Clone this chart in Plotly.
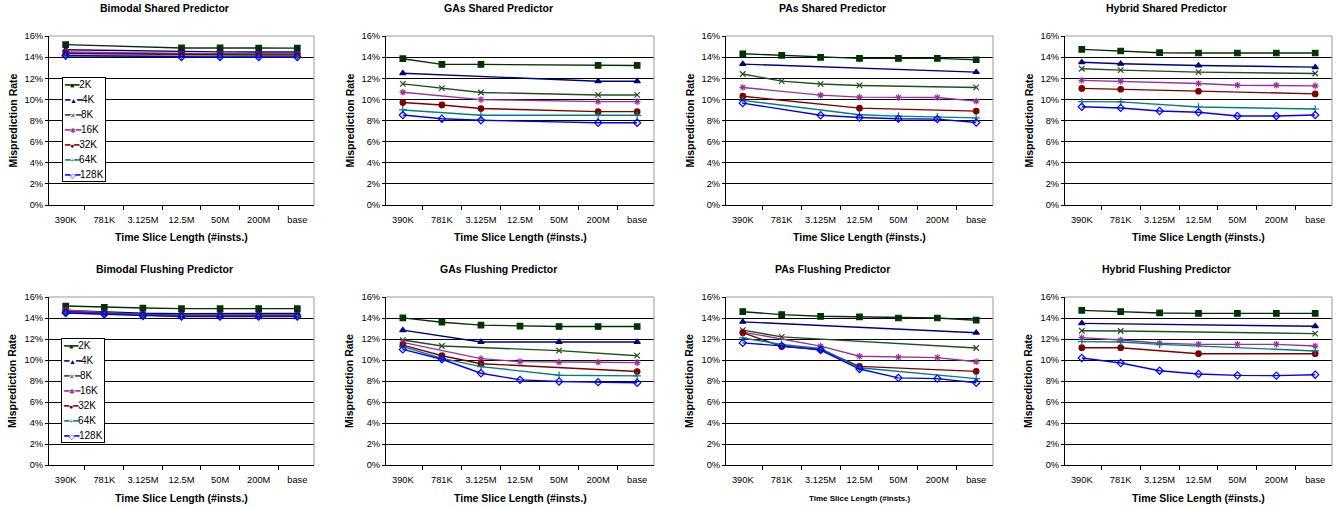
import plotly.graph_objects as go

W, H = 1336, 508

categories = ["390K", "781K", "3.125M", "12.5M", "50M", "200M", "base"]
series_names = ["2K", "4K", "8K", "16K", "32K", "64K", "128K"]
panel_titles = ["Bimodal Shared Predictor", "GAs Shared Predictor", "PAs Shared Predictor",
                "Hybrid Shared Predictor", "Bimodal Flushing Predictor", "GAs Flushing Predictor",
                "PAs Flushing Predictor", "Hybrid Flushing Predictor"]
y_tick_values = [0, 2, 4, 6, 8, 10, 12, 14, 16]
y_tick_labels = ["0%", "2%", "4%", "6%", "8%", "10%", "12%", "14%", "16%"]

# Misprediction rate (%) per series (2K..128K), None = no point plotted
bimodal_shared = [
    [15.18, None, None, 14.87, 14.87, 14.85, 14.85],
    [14.70, None, None, 14.50, 14.50, 14.48, 14.48],
    [14.40, None, None, 14.30, 14.30, 14.30, 14.30],
    [14.50, None, None, 14.30, 14.30, 14.28, 14.28],
    [14.35, None, None, 14.22, 14.22, 14.20, 14.20],
    [14.10, None, None, 14.08, 14.08, 14.08, 14.08],
    [14.15, None, None, 14.00, 14.00, 14.00, 14.00],
]
gas_shared = [
    [13.85, 13.31, 13.31, None, None, 13.21, 13.21],
    [12.48, None, None, None, None, 11.72, 11.72],
    [11.47, 11.06, 10.65, None, None, 10.42, 10.42],
    [10.68, None, 9.98, None, None, 9.79, 9.79],
    [9.70, 9.47, 9.13, None, None, 8.84, 8.84],
    [9.00, None, 8.49, None, None, 8.49, 8.49],
    [8.52, 8.17, 8.02, None, None, 7.79, 7.79],
]
pas_shared = [
    [14.32, 14.17, 13.98, 13.88, 13.88, 13.88, 13.75],
    [13.34, None, None, None, None, None, 12.58],
    [12.40, 11.73, 11.45, 11.32, None, None, 11.13],
    [11.13, None, 10.40, 10.21, 10.18, 10.18, 9.83],
    [10.30, None, None, 9.17, None, None, 8.89],
    [9.90, None, None, 8.54, 8.41, 8.32, 8.25],
    [9.64, None, 8.50, 8.28, 8.16, 8.13, 7.81],
]
hybrid_shared = [
    [14.73, 14.58, 14.42, 14.39, 14.39, 14.39, 14.39],
    [13.52, 13.37, None, 13.21, None, None, 13.05],
    [12.90, 12.77, None, 12.58, None, None, 12.45],
    [11.80, 11.72, None, 11.50, 11.34, 11.34, 11.28],
    [11.04, 10.96, None, 10.77, None, None, 10.52],
    [9.79, 9.76, None, 9.28, None, None, 9.09],
    [9.30, 9.19, 8.90, 8.78, 8.43, 8.43, 8.52],
]
bimodal_flushing = [
    [15.14, 15.02, 14.95, 14.89, 14.89, 14.89, 14.89],
    [14.73, 14.60, 14.45, 14.42, 14.42, 14.42, 14.44],
    [14.63, 14.54, 14.35, 14.30, 14.30, 14.30, 14.30],
    [14.76, 14.50, 14.32, 14.29, 14.29, 14.29, 14.29],
    [14.60, 14.44, 14.29, 14.22, 14.22, 14.22, 14.22],
    [14.50, 14.38, 14.22, 14.16, 14.16, 14.16, 14.16],
    [14.48, 14.35, 14.19, 14.13, 14.13, 14.13, 14.13],
]
gas_flushing = [
    [14.01, 13.60, 13.32, 13.22, 13.19, 13.19, 13.19],
    [12.84, None, 11.71, None, 11.71, None, 11.71],
    [11.90, 11.33, None, None, 10.89, None, 10.41],
    [11.68, None, 10.13, 9.85, 9.78, 9.78, 9.75],
    [11.42, 10.41, 9.65, None, None, None, 8.90],
    [11.27, 10.16, 9.37, None, 8.55, None, 8.49],
    [11.01, 10.07, 8.74, 8.11, 7.95, 7.89, 7.83],
]
pas_flushing = [
    [14.60, 14.32, 14.16, 14.10, 14.00, 14.00, 13.79],
    [13.63, None, None, None, None, None, 12.60],
    [12.85, 12.20, None, None, None, None, 11.14],
    [12.66, None, 11.32, 10.36, 10.26, 10.23, 9.83],
    [12.60, 11.29, 11.01, 9.39, None, None, 8.92],
    [12.10, 11.48, 11.10, 9.26, None, None, 8.23],
    [11.63, 11.35, 10.95, 9.14, 8.30, 8.23, 7.83],
]
hybrid_flushing = [
    [14.73, 14.60, 14.48, 14.44, 14.44, 14.44, 14.44],
    [13.49, None, None, None, None, None, 13.21],
    [12.79, 12.76, None, None, None, None, 12.51],
    [12.13, 11.90, 11.59, 11.49, 11.49, 11.49, 11.33],
    [11.17, 11.17, None, 10.60, None, None, 10.60],
    [11.75, 11.71, 11.49, None, None, None, 10.86],
    [10.19, 9.71, 8.98, 8.67, 8.54, 8.51, 8.60],
]

panels = [bimodal_shared, gas_shared, pas_shared, hybrid_shared,
          bimodal_flushing, gas_flushing, pas_flushing, hybrid_flushing]

colors = ["#003300", "#000080", "#1f4f1f", "#993399", "#800000", "#008080", "#0000ff"]
symbols = ["square", "triangle-up", "x-thin-open", "asterisk-open", "circle",
           "cross-thin-open", "diamond-open"]
legend_glyphs = ["■", "▲", "✕", "✱", "●", "+", "◇"]

FONT = "Liberation Sans, Arial, sans-serif"

# plot-area pixel boxes (left, right, top, bottom)
col_px = [(49, 314), (386, 654), (726, 993), (1065, 1332)]
row_px = [(36, 205), (297, 465)]

fig = go.Figure()
annotations = []
shapes = []
layout_axes = {}

for i, data in enumerate(panels):
    r, c = divmod(i, 4)
    L, R = col_px[c]
    T, B = row_px[r]
    ax = "" if i == 0 else str(i + 1)
    xa, ya = "x" + ax, "y" + ax
    for s, vals in enumerate(data):
        fig.add_trace(go.Scatter(
            x=categories, y=vals, name=series_names[s], mode="lines+markers",
            connectgaps=True, xaxis=xa, yaxis=ya, showlegend=False,
            line=dict(color=colors[s], width=1.4),
            marker=dict(color=colors[s], symbol=symbols[s], size=5.5,
                        line=dict(color=colors[s], width=1.2))))
    layout_axes["xaxis" + ax] = dict(
        domain=[L / W, R / W], anchor=ya, type="category",
        categoryorder="array", categoryarray=categories, automargin=False,
        tickson="boundaries", ticks="outside", ticklen=4, tickcolor="black",
        tickangle=0, ticklabelstandoff=6,
        showline=True, linecolor="black", linewidth=1, showgrid=False,
        tickfont=dict(family=FONT, size=9.3, color="black"), fixedrange=True)
    layout_axes["yaxis" + ax] = dict(
        domain=[1 - B / H, 1 - T / H], anchor=xa, range=[0, 16], automargin=False,
        tickmode="array", tickvals=y_tick_values, ticktext=y_tick_labels,
        ticks="outside", ticklen=3, tickcolor="black",
        showline=True, linecolor="black", linewidth=1,
        showgrid=True, gridcolor="black", gridwidth=1, zeroline=False,
        tickfont=dict(family=FONT, size=9.3, color="black"), fixedrange=True)
    # gray top & right border of plot area
    shapes.append(dict(type="line", xref=xa + " domain", yref=ya + " domain",
                       x0=0, x1=1, y0=1, y1=1, line=dict(color="#999999", width=1), layer="above"))
    shapes.append(dict(type="line", xref=xa + " domain", yref=ya + " domain",
                       x0=1, x1=1, y0=0, y1=1, line=dict(color="#999999", width=1), layer="above"))
    # title
    title_y = 8 if r == 0 else 269
    annotations.append(dict(text="<b>%s</b>" % panel_titles[i], xref="paper", yref="paper",
                            x=(c * 334 + 164) / W, y=1 - title_y / H, xanchor="center",
                            yanchor="middle", showarrow=False,
                            font=dict(family=FONT, size=10.5, color="black")))
    # y title
    annotations.append(dict(text="<b>Misprediction Rate</b>", xref="paper", yref="paper",
                            x=(L - 37) / W, y=1 - (T + B) / 2 / H, xanchor="center",
                            yanchor="middle", textangle=-90, showarrow=False,
                            font=dict(family=FONT, size=10.5, color="black")))
    # x title
    xt_y = 237 if r == 0 else 498
    annotations.append(dict(text="<b>Time Slice Length (#insts.)</b>", xref="paper", yref="paper",
                            x=(L + R) / 2 / W, y=1 - xt_y / H, xanchor="center",
                            yanchor="middle", showarrow=False,
                            font=dict(family=FONT, size=8 if i == 6 else 10.5, color="black")))

# legends (panels 1 and 5), drawn as text keys
legend_lines = []
for s, name in enumerate(series_names):
    legend_lines.append(
        "<span style='color:%s;font-size:9px'>━<span style='font-size:7px'>%s</span>━</span>"
        "<span style='font-size:10px'>%s</span>" % (colors[s], legend_glyphs[s], name))
legend_text = "<br>".join(legend_lines)
for (lx, ly) in [(62, 77), (61, 338)]:
    annotations.append(dict(text=legend_text, xref="paper", yref="paper",
                            x=lx / W, y=1 - ly / H, xanchor="left", yanchor="top",
                            align="left", showarrow=False, bgcolor="white",
                            bordercolor="black", borderwidth=1, borderpad=1,
                            font=dict(family=FONT, size=11.5, color="black")))

fig.update_layout(
    width=W, height=H, autosize=False,
    margin=dict(l=0, r=0, t=0, b=0),
    paper_bgcolor="white", plot_bgcolor="white",
    font=dict(family=FONT, color="black"),
    annotations=annotations, shapes=shapes,
    showlegend=False, hovermode=False,
    **layout_axes,
)

fig.write_html("out.html", config={"displayModeBar": False, "staticPlot": True},
               post_script="document.body.style.margin='0px';document.body.style.overflow='hidden';")
